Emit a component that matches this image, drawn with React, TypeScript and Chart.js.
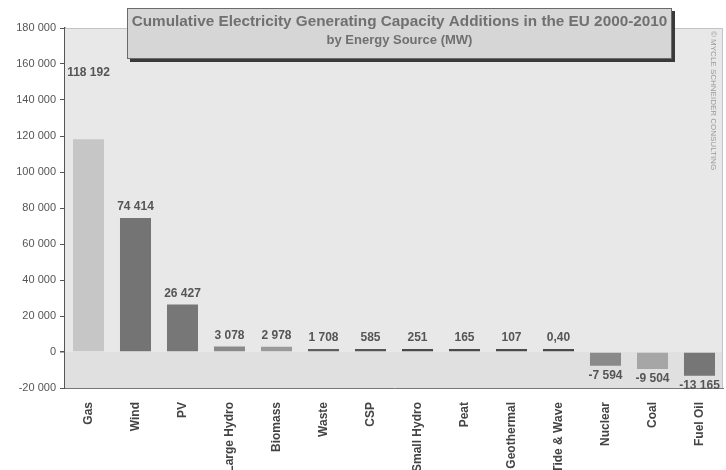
import React, { useEffect, useRef } from "react";
import { Chart, registerables } from "chart.js";

Chart.register(...registerables);

const categories = [
  "Gas", "Wind", "PV", "Large Hydro", "Biomass", "Waste", "CSP",
  "Small Hydro", "Peat", "Geothermal", "Tide & Wave", "Nuclear", "Coal", "Fuel Oil",
];
const capacityMW = [118192, 74414, 26427, 3078, 2978, 1708, 585, 251, 165, 107, 0.4, -7594, -9504, -13165];
const valueLabels = ["118 192", "74 414", "26 427", "3 078", "2 978", "1 708", "585", "251", "165", "107", "0,40", "-7 594", "-9 504", "-13 165"];
const barColors = [
  "#c6c6c6", "#747474", "#777777", "#8a8a8a", "#9a9a9a", "#5e5e5e", "#555555",
  "#4a4a4a", "#4a4a4a", "#4a4a4a", "#4a4a4a", "#8a8a8a", "#a6a6a6", "#767676",
];
const yTicks = [-20000, 0, 20000, 40000, 60000, 80000, 100000, 120000, 140000, 160000, 180000];
const titleLine1 = "Cumulative Electricity Generating Capacity Additions in the EU 2000-2010";
const titleLine2 = "by Energy Source (MW)";
const copyright = "© MYCLE SCHNEIDER CONSULTING";
const GAS_LABEL_VALUE = 155000;

const FONT = "'Liberation Sans', Arial, sans-serif";

const fmt = (v: number) => String(v).replace(/\B(?=(\d{3})+(?!\d))/g, " ");

const decorPlugin = {
  id: "decor",
  beforeDatasetsDraw(chart: any) {
    const { ctx, chartArea: a, scales } = chart;
    const y0 = scales.y.getPixelForValue(0);
    ctx.save();
    ctx.fillStyle = "#e8e8e8";
    ctx.fillRect(a.left, a.top, a.right - a.left, y0 - a.top);
    ctx.fillStyle = "#e0e0e0";
    ctx.fillRect(a.left, y0, a.right - a.left, a.bottom - y0);
    ctx.strokeStyle = "#c4c4c4";
    ctx.lineWidth = 1;
    ctx.beginPath();
    ctx.moveTo(a.left, a.top + 0.5);
    ctx.lineTo(a.right - 0.5, a.top + 0.5);
    ctx.lineTo(a.right - 0.5, a.bottom);
    ctx.stroke();
    ctx.restore();
  },
  afterDraw(chart: any) {
    const { ctx, chartArea: a, scales } = chart;
    ctx.save();
    // value labels
    const meta = chart.getDatasetMeta(0);
    ctx.font = `bold 12px ${FONT}`;
    ctx.fillStyle = "#555";
    ctx.textAlign = "center";
    meta.data.forEach((bar: any, i: number) => {
      const v = capacityMW[i];
      if (i === 0) {
        ctx.textBaseline = "middle";
        ctx.fillText(valueLabels[i], bar.x, scales.y.getPixelForValue(GAS_LABEL_VALUE));
      } else if (v >= 0) {
        ctx.textBaseline = "bottom";
        ctx.fillText(valueLabels[i], bar.x, Math.min(bar.y, bar.base) - 5);
      } else {
        ctx.textBaseline = "top";
        ctx.fillText(valueLabels[i], bar.x, Math.max(bar.y, bar.base) + 4);
      }
    });
    // title box
    const bx = 127, by = 8, bw = 545, bh = 51;
    ctx.fillStyle = "#3a3a3a";
    ctx.fillRect(bx + 3, by + 3, bw, bh);
    ctx.fillStyle = "#d6d6d6";
    ctx.fillRect(bx, by, bw, bh);
    ctx.strokeStyle = "#6a6a6a";
    ctx.lineWidth = 1;
    ctx.strokeRect(bx + 0.5, by + 0.5, bw - 1, bh - 1);
    ctx.fillStyle = "#707070";
    ctx.textBaseline = "middle";
    ctx.font = `bold 15.3px ${FONT}`;
    ctx.fillText(titleLine1, bx + bw / 2, by + 14);
    ctx.font = `bold 13px ${FONT}`;
    ctx.fillText(titleLine2, bx + bw / 2, by + 32);
    // copyright
    ctx.translate(a.right - 10, a.top + 3);
    ctx.rotate(Math.PI / 2);
    ctx.font = `8px ${FONT}`;
    ctx.fillStyle = "#9a9a9a";
    ctx.textAlign = "left";
    ctx.fillText(copyright, 0, 0);
    ctx.restore();
  },
};

export default function App() {
  const ref = useRef<HTMLCanvasElement>(null);
  useEffect(() => {
    document.body.style.margin = "0";
    const chart = new Chart(ref.current!, {
      type: "bar",
      data: {
        labels: categories,
        datasets: [
          {
            data: capacityMW,
            backgroundColor: barColors,
            barPercentage: 0.66,
            categoryPercentage: 1,
            minBarLength: 3,
          },
        ],
      },
      options: {
        animation: false,
        responsive: false,
        maintainAspectRatio: false,
        layout: { padding: { top: 28, right: 3, left: 0, bottom: 0 } },
        plugins: { legend: { display: false }, tooltip: { enabled: false } },
        scales: {
          x: {
            grid: { display: false },
            border: { color: "#777", width: 1 },
            ticks: {
              color: "#444",
              font: { family: FONT, size: 12, weight: "bold" },
              minRotation: 90,
              maxRotation: 90,
              padding: 6,
              autoSkip: false,
            },
            afterFit: (s: any) => { s.height = 82; },
          },
          y: {
            min: -20000,
            max: 180000,
            afterBuildTicks: (s: any) => { s.ticks = yTicks.map((v) => ({ value: v })); },
            grid: {
              drawOnChartArea: true,
              color: (c: any) => (c.tick && c.tick.value === 0 ? "#444" : "transparent"),
              tickColor: "#555",
              tickLength: 5,
              lineWidth: (c: any) => (c.tick && c.tick.value === 0 ? 1.5 : 1),
            },
            border: { color: "#555", width: 1.5 },
            ticks: {
              color: "#555",
              font: { family: FONT, size: 11 },
              padding: 4,
              callback: (v: any) => fmt(Number(v)),
            },
            afterFit: (s: any) => { s.width = 65; },
          },
        },
      },
      plugins: [decorPlugin],
    });
    return () => chart.destroy();
  }, []);
  return (
    <div style={{ width: 726, height: 470, background: "#fff" }}>
      <canvas ref={ref} width={726} height={470} style={{ display: "block" }} />
    </div>
  );
}
